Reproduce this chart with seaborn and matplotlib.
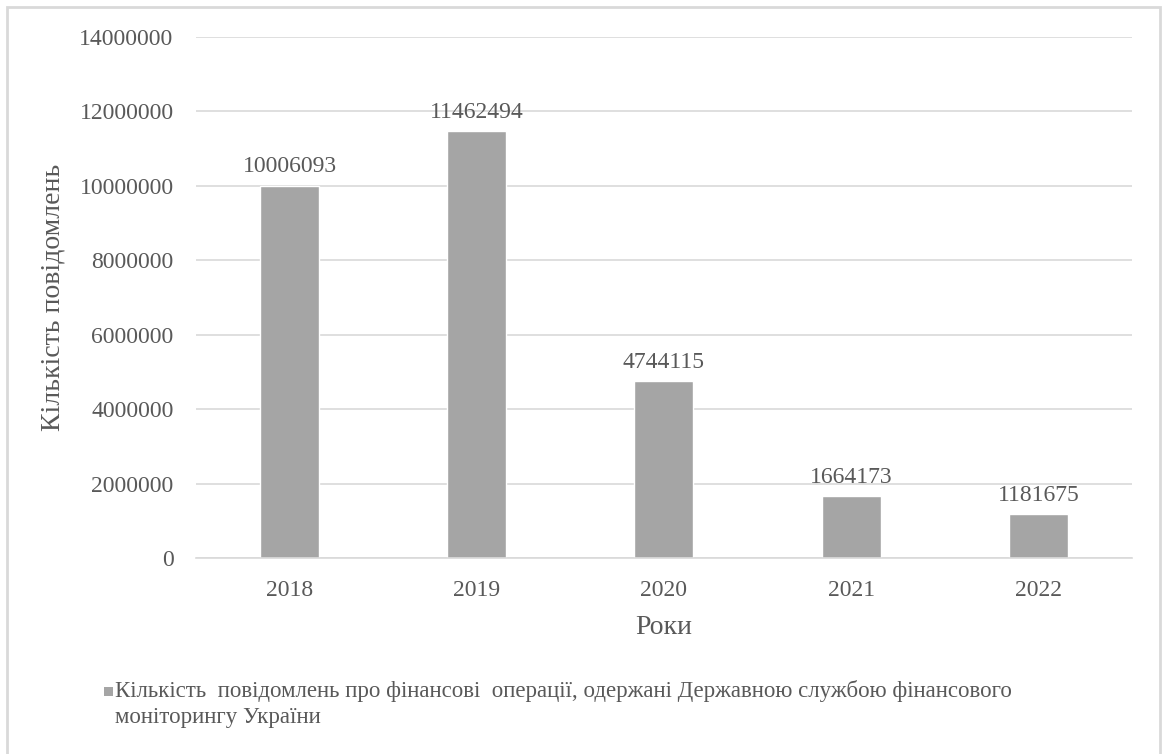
import matplotlib
matplotlib.use("Agg")
import matplotlib.pyplot as plt
import seaborn as sns
import pandas as pd
from matplotlib.patches import Rectangle

years = ["2018", "2019", "2020", "2021", "2022"]
reports = [10006093, 11462494, 4744115, 1664173, 1181675]
y_ticks = [0, 2000000, 4000000, 6000000, 8000000, 10000000, 12000000, 14000000]
legend_lines = [
    "Кількість  повідомлень про фінансові  операції, одержані Державною службою фінансового",
    "моніторингу України",
]

sns.set_theme(style="white")
plt.rcParams["font.family"] = ["Liberation Serif", "DejaVu Serif"]

text_color = "#595959"
bar_color = "#A5A5A5"
grid_color = "#D9D9D9"

df = pd.DataFrame({"year": years, "reports": reports})

fig = plt.figure(figsize=(11.66, 7.54), dpi=100)
ax = fig.add_axes([0.168, 0.26, 0.8028, 0.691])

sns.barplot(data=df, x="year", y="reports", color=bar_color, width=0.315,
            saturation=1, ax=ax)

ax.set_ylim(0, 14000000)
ax.set_yticks(y_ticks)
ax.set_yticklabels([str(v) for v in y_ticks])
ax.yaxis.grid(True, color=grid_color, linewidth=1.2)
ax.set_axisbelow(True)
for side in ["top", "right", "left"]:
    ax.spines[side].set_visible(False)
ax.spines["bottom"].set_color(grid_color)
ax.spines["bottom"].set_linewidth(1.2)
ax.tick_params(axis="both", length=0, labelsize=17, colors=text_color)
ax.tick_params(axis="y", pad=16)
ax.tick_params(axis="x", pad=16)

ax.set_xlabel("Роки", fontsize=20, color=text_color, labelpad=10)
ax.set_ylabel("Кількість повідомлень", fontsize=20, color=text_color, labelpad=10)

for container in ax.containers:
    ax.bar_label(container, labels=[str(v) for v in reports], padding=6,
                 fontsize=17, color=text_color)

# figure frame
fig.patches.append(Rectangle((7 / 1166, -0.05), 1153 / 1166, 1.05 - 7 / 754,
                             transform=fig.transFigure, fill=False,
                             edgecolor="#D9D9D9", linewidth=2))

# legend
fig.patches.append(Rectangle((104 / 1166, 1 - 696 / 754), 9 / 1166, 9 / 754,
                             transform=fig.transFigure, facecolor=bar_color,
                             edgecolor="none"))
fig.text(115 / 1166, 1 - 691 / 754, legend_lines[0], fontsize=16.5,
         color=text_color, va="center", ha="left")
fig.text(115 / 1166, 1 - 718 / 754, legend_lines[1], fontsize=16.5,
         color=text_color, va="center", ha="left")

fig.savefig("out.png", dpi=100)
